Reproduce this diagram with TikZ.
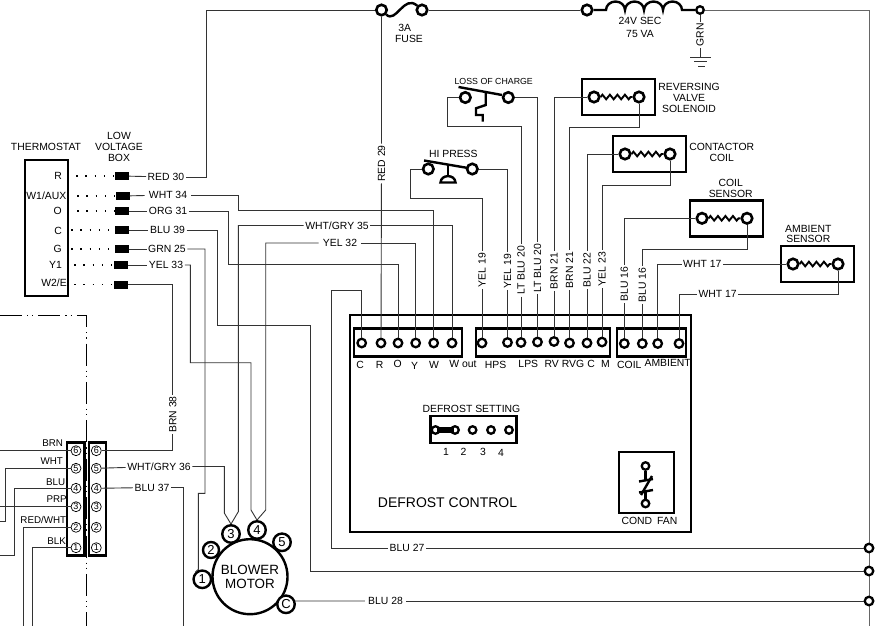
\documentclass[tikz,border=0pt]{standalone}
\usepackage{fontspec}
\setmainfont{Liberation Sans}
\usetikzlibrary{decorations.pathmorphing}
\newcommand{\tagfont}{\fontsize{10.4}{11}\selectfont}
\tikzset{
	wire/.style={draw=black!80,line width=0.9pt},
	heavy/.style={draw=black,line width=2.4pt},
	boxline/.style={draw=black,line width=2.4pt,inner sep=0pt},
	dots/.style={draw=black,line width=1.3pt,dash pattern=on 1.3pt off 7.9pt},
	border/.style={draw=black,line width=0.9pt,dash pattern=on 22pt off 5pt on 1.2pt off 4pt on 1.2pt off 5pt},
	term/.style={circle,draw=black,fill=white,line width=2.3pt,minimum size=8.5pt,inner sep=0pt},
	bigterm/.style={term,line width=2.6pt,minimum size=10.5pt},
	pin/.style={circle,draw=black,fill=white,line width=0.7pt,minimum size=10pt,inner sep=0pt,font=\fontsize{9}{9}\selectfont},
	motorpin/.style={circle,draw=black,fill=white,line width=2.4pt,minimum size=17.5pt,inner sep=0pt,font=\fontsize{13}{13}\selectfont},
	block/.style={fill=black,minimum width=14pt,minimum height=8pt,inner sep=0pt},
	wirelabel/.style={font=\tagfont,inner xsep=1.5pt,inner ysep=1pt},
	uplabel/.style={wirelabel,rotate=90},
	tag/.style={font=\tagfont,align=center,inner sep=0pt},
}
% box with a zigzag between two terminals
\newcommand{\coilbox}[3]{
	\node[boxline,minimum width=73pt,minimum height=36pt] (#1box) at (#2,#3) {};
	\node[bigterm] (#1L) at (#2-24.5,#3) {};
	\node[bigterm] (#1R) at (#2+20.5,#3) {};
	\draw[line width=1.9pt,decorate,decoration={zigzag,segment length=7.5pt,amplitude=2.3pt}] (#1L) -- (#1R);
}
\begin{document}
\begin{tikzpicture}[x=1pt,y=-1pt]
	\useasboundingbox (0,0) rectangle (890,626);

	% thermostat
	\node[boxline,minimum width=43pt,minimum height=136pt] (tstat) at (46.5,228) {};
	\node[tag] (tstatname) at (46,147) {THERMOSTAT};
	\node[tag] (lvname) at (119,147) {LOW\\VOLTAGE\\BOX};
	\node[tag,anchor=east] (tR) at (62,176) {R};
	\node[tag,anchor=east] (tAux) at (66.5,196) {W1/AUX};
	\node[tag,anchor=east] (tO) at (62,211) {O};
	\node[tag,anchor=east] (tC) at (62,231) {C};
	\node[tag,anchor=east] (tG) at (62,249) {G};
	\node[tag,anchor=east] (tY) at (62,265) {Y1};
	\node[tag,anchor=east] (tE) at (67,283) {W2/E};

	\node[block] (lvR) at (122,176) {};
	\node[block] (lvAux) at (122.5,196) {};
	\node[block] (lvO) at (121.5,211) {};
	\node[block] (lvC) at (121.5,230) {};
	\node[block] (lvG) at (121.5,249) {};
	\node[block] (lvY) at (121,265) {};
	\node[block] (lvE) at (120.5,284.5) {};

	\draw[dots,shorten <=7pt] (tstat.east |- lvR) -- (lvR);
	\draw[dots,shorten <=8pt] (tstat.east |- lvAux) -- (lvAux);
	\draw[dots,shorten <=8pt] (tstat.east |- lvO) -- (lvO);
	\draw[dots,shorten <=2pt] (tstat.east |- lvC) -- (lvC);
	\draw[dots,shorten <=2pt] (tstat.east |- lvG) -- (lvG);
	\draw[dots,shorten <=5pt] (tstat.east |- lvY) -- (lvY);
	\draw[dots,shorten <=5pt] (tstat.east |- lvE) -- (lvE);

	% defrost control board
	\node[boxline,minimum width=341pt,minimum height=217pt] (board) at (520.5,423.5) {};
	\node[boxline,minimum width=108pt,minimum height=28pt] (stripA) at (408,342.5) {};
	\node[boxline,minimum width=134pt,minimum height=28pt] (stripB) at (543,342.5) {};
	\node[boxline,minimum width=68.5pt,minimum height=28pt] (stripC) at (651.5,342.5) {};

	\node[term] (pC) at (361.7,343) {};
	\node[term] (pR) at (381,343) {};
	\node[term] (pO) at (398,343) {};
	\node[term] (pY) at (415.7,343) {};
	\node[term] (pW) at (433.7,343) {};
	\node[term] (pWout) at (452,343) {};
	\node[term] (pHps) at (482,343) {};
	\node[term] (pHpsB) at (507.5,342.5) {};
	\node[term] (pLps) at (521,342.5) {};
	\node[term] (pLpsB) at (537.5,342) {};
	\node[term] (pRv) at (554,341.5) {};
	\node[term] (pRvg) at (569.5,343) {};
	\node[term] (pCc) at (587,343) {};
	\node[term] (pM) at (602,342) {};
	\node[term] (pCoil) at (624.3,343.5) {};
	\node[term] (pCoilB) at (642.3,343.5) {};
	\node[term] (pAmb) at (657.7,343.5) {};
	\node[term] (pAmbB) at (679,343.5) {};

	\node[tag] (lC) at (360,365) {C};
	\node[tag] (lR) at (379.5,365) {R};
	\node[tag] (lO) at (397.7,364) {O};
	\node[tag] (lY) at (414.7,366) {Y};
	\node[tag] (lW) at (434,365) {W};
	\node[tag] (lWout) at (463,364) {W out};
	\node[tag] (lHps) at (495.5,365) {HPS};
	\node[tag] (lLps) at (528.3,364) {LPS};
	\node[tag] (lRv) at (551.7,364) {RV};
	\node[tag] (lRvg) at (573,364) {RVG};
	\node[tag] (lCc) at (591,364) {C};
	\node[tag] (lM) at (605.5,364) {M};
	\node[tag] (lCoil) at (629.3,364.5) {COIL};
	\node[tag] (lAmb) at (667.7,363) {AMBIENT};

	\node[tag] (setname) at (471.5,409) {DEFROST SETTING};
	\node[boxline,minimum width=86pt,minimum height=27pt] (setbox) at (473.5,429.5) {};
	\node[term,minimum size=7.5pt] (sA) at (435.5,430) {};
	\node[term,minimum size=7.5pt] (sB) at (455,430) {};
	\node[term,minimum size=7.5pt] (sC) at (472.6,430) {};
	\node[term,minimum size=7.5pt] (sD) at (491,430) {};
	\node[term,minimum size=7.5pt] (sE) at (509,430) {};
	\draw[line width=6pt] ([xshift=1.5pt]sA.center) -- ([xshift=-1.5pt]sB.center);
	\node[tag] (nA) at (446,452) {1};
	\node[tag] (nB) at (463.5,452) {2};
	\node[tag] (nC) at (483,452) {3};
	\node[tag] (nD) at (501,453) {4};

	\node[tag,font=\fontsize{14}{14}\selectfont] (boardname) at (447.5,503) {DEFROST CONTROL};

	\node[draw=black,line width=2pt,minimum width=55pt,minimum height=61pt,inner sep=0pt] (fanbox) at (646,482.5) {};
	\node[term,minimum size=7.5pt] (fanT) at (645.5,466) {};
	\node[term,minimum size=7.5pt] (fanB) at (645.5,503.5) {};
	\draw[heavy] (fanT) -- (645.5,481);
	\draw[heavy] (fanB) -- (645.5,491);
	\draw[heavy] (639,481.5) -- (653,479);
	\draw[heavy] (639,492.5) -- (653,490);
	\draw[heavy] (641,495) -- (652,476);
	\node[tag] (fanname) at (649.5,520.5) {COND\hspace{5pt}FAN};

	% fuse and transformer
	\node[bigterm] (fuseL) at (381.5,10) {};
	\node[bigterm] (fuseR) at (422,10) {};
	\node[bigterm] (secL) at (587,10) {};
	\node[term,minimum size=7.5pt] (secR) at (700,10) {};
	\node[tag] (fusename) at (404.7,28) {3A};
	\node[tag] (fusenameB) at (409,39) {FUSE};
	\node[tag] (secname) at (640,27.5) {24V SEC\\[2pt]75 VA};
	\draw[heavy] (fuseL) .. controls (396,24) and (404,-6) .. (fuseR);
	\draw[heavy] (secL) -- (606,10) arc (180:360:9.5 and 8.5) arc (180:360:9.5 and 8.5) arc (180:360:9.5 and 8.5) arc (180:360:9.5 and 8.5) -- (secR);

	\node[uplabel] (grn) at (700,35) {GRN};
	\coordinate (gnd) at (700,57);
	\draw[wire] (secR) -- (grn) -- (gnd);
	\draw[wire] (690,57) -- (710.5,57);
	\draw[wire] (694,61) -- (706.5,61);
	\draw[wire] (698,66) -- (705,66);

	\draw[wire] (fuseR) -- (secL);
	\coordinate (busT) at (869,10);
	\coordinate (busB) at (869,626);
	\draw[wire,draw=black!60] (secR) -- (busT) -- (busB);

	% loss of charge switch
	\node[tag,font=\fontsize{8.8}{9}\selectfont] (locname) at (493.7,81) {LOSS OF CHARGE};
	\node[bigterm] (locL) at (465.3,97.5) {};
	\node[bigterm] (locR) at (508.3,97.5) {};
	\draw[heavy] (458.5,87) -- (502,95);
	\draw[heavy] (485.7,93) -- (485.7,105) -- (476,108.3) -- (476,115) -- (482.7,115) -- (482.7,121.7);

	% hi press switch
	\node[tag] (hpname) at (453.3,154) {HI PRESS};
	\node[bigterm] (hpL) at (428.3,169) {};
	\node[bigterm] (hpR) at (472.3,169) {};
	\draw[heavy] (424,160.5) -- (468,168);
	\draw[heavy] (447.7,165) -- (447.7,176);
	\draw[heavy,fill=white] (440.5,182.5) .. controls (441,174) and (455,174) .. (455.5,182.5) -- cycle;

	% coils and sensors
	\coilbox{rv}{618.5}{97}
	\coilbox{con}{649.5}{154}
	\coilbox{cs}{726.5}{218.3}
	\coilbox{as}{817.5}{264}
	\node[tag] (rvname) at (689,98) {REVERSING\\VALVE\\SOLENOID};
	\node[tag] (conname) at (721.7,152.5) {CONTACTOR\\COIL};
	\node[tag] (csname) at (730.7,188) {COIL\\SENSOR};
	\node[tag] (asname) at (808.3,234) {AMBIENT\\[-1pt]SENSOR};

	% wire labels
	\node[wirelabel] (red30) at (166,177) {RED\hspace{3pt}30};
	\node[wirelabel,inner xsep=4pt] (wht34) at (168,195) {WHT 34};
	\node[wirelabel] (org31) at (168,211) {ORG 31};
	\node[wirelabel] (blu39) at (167.5,230) {BLU 39};
	\node[wirelabel] (grn25) at (167,249) {GRN 25};
	\node[wirelabel] (yel33) at (166,265) {YEL 33};
	\node[wirelabel] (whtgry35) at (337,225.5) {WHT/GRY 35};
	\node[wirelabel,inner xsep=4pt] (yel32) at (340,243) {YEL 32};
	\node[uplabel] (red29) at (381.5,163.5) {RED 29};
	\node[uplabel] (yel19a) at (482,270) {YEL 19};
	\node[uplabel] (yel19b) at (507.5,271) {YEL 19};
	\node[uplabel] (ltblu20a) at (521,270.5) {LT BLU 20};
	\node[uplabel] (ltblu20b) at (537.5,268) {LT BLU 20};
	\node[uplabel] (brn21a) at (554,271) {BRN 21};
	\node[uplabel] (brn21b) at (569.5,270) {BRN 21};
	\node[uplabel] (blu22) at (587,270) {BLU 22};
	\node[uplabel] (yel23) at (602,269) {YEL 23};
	\node[uplabel] (blu16a) at (624.3,284) {BLU 16};
	\node[uplabel] (blu16b) at (642.3,285) {BLU 16};
	\node[wirelabel] (wht17a) at (702.3,264) {WHT 17};
	\node[wirelabel] (wht17b) at (717.7,294) {WHT 17};
	\node[uplabel] (brn38) at (172.7,414.5) {BRN 38};
	\node[wirelabel] (whtgry36) at (159,466.5) {WHT/GRY 36};
	\node[wirelabel] (blu37) at (152,487.5) {BLU 37};
	\node[wirelabel] (blu27) at (407,548) {BLU 27};
	\node[wirelabel,inner xsep=3pt] (blu28) at (385.5,601) {BLU 28};

	% connectors to the thermostat side
	\draw[wire] (lvR) -- (red30);
	\draw[wire] (red30) -| (206,10) -- (fuseL);
	\draw[wire] (lvAux) -- (wht34);
	\draw[wire] (wht34) -| (238.3,210) -| (pW);
	\draw[wire] (lvO) -- (org31);
	\draw[wire] (org31) -| (228,264) -| (pO);
	\draw[wire] (lvC) -- (blu39);
	\draw[wire] (lvG) -- (grn25);
	\draw[wire] (lvY) -- (yel33);
	\draw[wire] (whtgry35) -| (pWout);
	\draw[wire] (yel32) -| (pY);
	\draw[wire] (fuseL) -- (red29) -- (pR);

	% switches to board
	\draw[wire] (hpL) -| (410.7,198.7) -| (yel19a) -- (pHps);
	\draw[wire] (hpR) -| (yel19b) -- (pHpsB);
	\draw[wire] (locL) -| (447.3,126.7) -| (ltblu20a) -- (pLps);
	\draw[wire] (locR) -| (ltblu20b) -- (pLpsB);
	\draw[wire] (rvL) -| (brn21a) -- (pRv);
	\draw[wire] (rvR) |- (569.5,127.7) -- (brn21b) -- (pRvg);
	\draw[wire] (conL) -| (blu22) -- (pCc);
	\draw[wire] (conR) |- (602,185) -- (yel23) -- (pM);
	\draw[wire] (csL) -| (blu16a) -- (pCoil);
	\draw[wire] (csR) |- (642.3,249) -- (blu16b) -- (pCoilB);
	\draw[wire] (asL) -- (wht17a);
	\draw[wire] (wht17a) -| (pAmb);
	\draw[wire] (asR) |- (wht17b);
	\draw[wire] (wht17b) -| (pAmbB);

	% plugs
	\node[boxline,minimum width=17.5pt,minimum height=113pt] (plugL) at (75.7,499) {};
	\node[boxline,minimum width=17.5pt,minimum height=113pt] (plugR) at (97.5,499) {};
	\node[pin] (lF) at (76,450.7) {6};
	\node[pin] (lE) at (76,468.3) {5};
	\node[pin] (lD) at (76,488.3) {4};
	\node[pin] (lS) at (76,506.7) {3};
	\node[pin] (lB) at (76,527.3) {2};
	\node[pin] (lA) at (76,547.7) {1};
	\node[pin] (rF) at (96.3,450.7) {6};
	\node[pin] (rE) at (96.3,468.3) {5};
	\node[pin] (rD) at (96.3,488.3) {4};
	\node[pin] (rS) at (96.3,506.7) {3};
	\node[pin] (rB) at (96.3,527.3) {2};
	\node[pin] (rA) at (96.3,547.7) {1};

	\node[tag,font=\fontsize{9.8}{10}\selectfont] (tBrn) at (52.7,443.3) {BRN};
	\node[tag,font=\fontsize{9.8}{10}\selectfont] (tWht) at (51.7,461.3) {WHT};
	\node[tag,font=\fontsize{9.8}{10}\selectfont] (tBlu) at (55.7,482.3) {BLU};
	\node[tag,font=\fontsize{9.8}{10}\selectfont] (tPrp) at (56.7,499.3) {PRP};
	\node[tag,font=\fontsize{9.8}{10}\selectfont] (tRed) at (43.3,520.3) {RED/WHT};
	\node[tag,font=\fontsize{9.8}{10}\selectfont] (tBlk) at (56.7,541.3) {BLK};

	\coordinate (endBrn) at (0,450.7);
	\coordinate (endPrp) at (0,506.7);
	\coordinate (endWht) at (0,521);
	\coordinate (endBlu) at (0,555);
	\coordinate (endRed) at (23.3,626);
	\coordinate (endBlk) at (32.3,626);
	\coordinate (end37) at (183.3,626);
	\draw[wire] (endBrn) -- (lF);
	\draw[wire] (endPrp) -- (lS);
	\draw[wire] (lE) -| (5.7,521) -- (endWht);
	\draw[wire] (lD) -| (14.7,555) -- (endBlu);
	\draw[wire] (lB) -| (endRed);
	\draw[wire] (lA) -| (endBlk);
	\draw[wire] (lvE) -| (brn38);
	\draw[wire] (brn38) |- (rF);
	\draw[wire] (rE) -- (whtgry36);
	\draw[wire] (rD) -- (blu37);
	\draw[wire] (blu37) -| (end37);

	\coordinate (edgeA) at (0,315);
	\coordinate (edgeB) at (86.7,315);
	\coordinate (edgeC) at (86.7,626);
	\draw[border] (edgeA) -- (edgeB) -- (edgeC);

	% blower motor
	\node[circle,draw=black,fill=white,line width=2.4pt,minimum size=75pt,inner sep=0pt,align=center,font=\fontsize{13.4}{14}\selectfont] (motor) at (250,576.7) {BLOWER\\MOTOR};
	\node[motorpin] (mA) at (202.3,579.3) {1};
	\node[motorpin,minimum size=16pt] (mB) at (211,550) {2};
	\node[motorpin] (mS) at (231,534) {3};
	\node[motorpin] (mF) at (257,530) {4};
	\node[motorpin] (mG) at (282,542.3) {5};
	\node[motorpin] (mC) at (286,604.3) {C};

	\draw[wire] (whtgry36) -| (224.3,513) -- (mS.north);
	\draw[wire] (whtgry35) -| (238.3,511.7) -- (mS.north);
	\draw[wire] (yel33) -| (190.3,362.7) -| (251,510) -- (mF.north);
	\draw[wire] (yel32) -| (265.7,510) -- (mF.north);
	\draw[wire] (grn25) -| (205,493.3) -| (mA.north -| 198.3,0) -- (mA.north west);

	% right side terminals
	\node[term,minimum size=8.5pt] (busA) at (869,548) {};
	\node[term,minimum size=8.5pt] (busC) at (869,571) {};
	\node[term,minimum size=8.5pt] (busD) at (869,601) {};
	\draw[wire] (pC) |- (331.5,290) |- (blu27);
	\draw[wire] (blu27) -- (busA);
	\draw[wire] (blu39) -| (217.7,325.7) -| (310.7,571) -- (busC);
	\draw[wire] (mC) -- (blu28 -| mC.east) -- (blu28);
	\draw[wire] (blu28) -- (busD);
\end{tikzpicture}
\end{document}
